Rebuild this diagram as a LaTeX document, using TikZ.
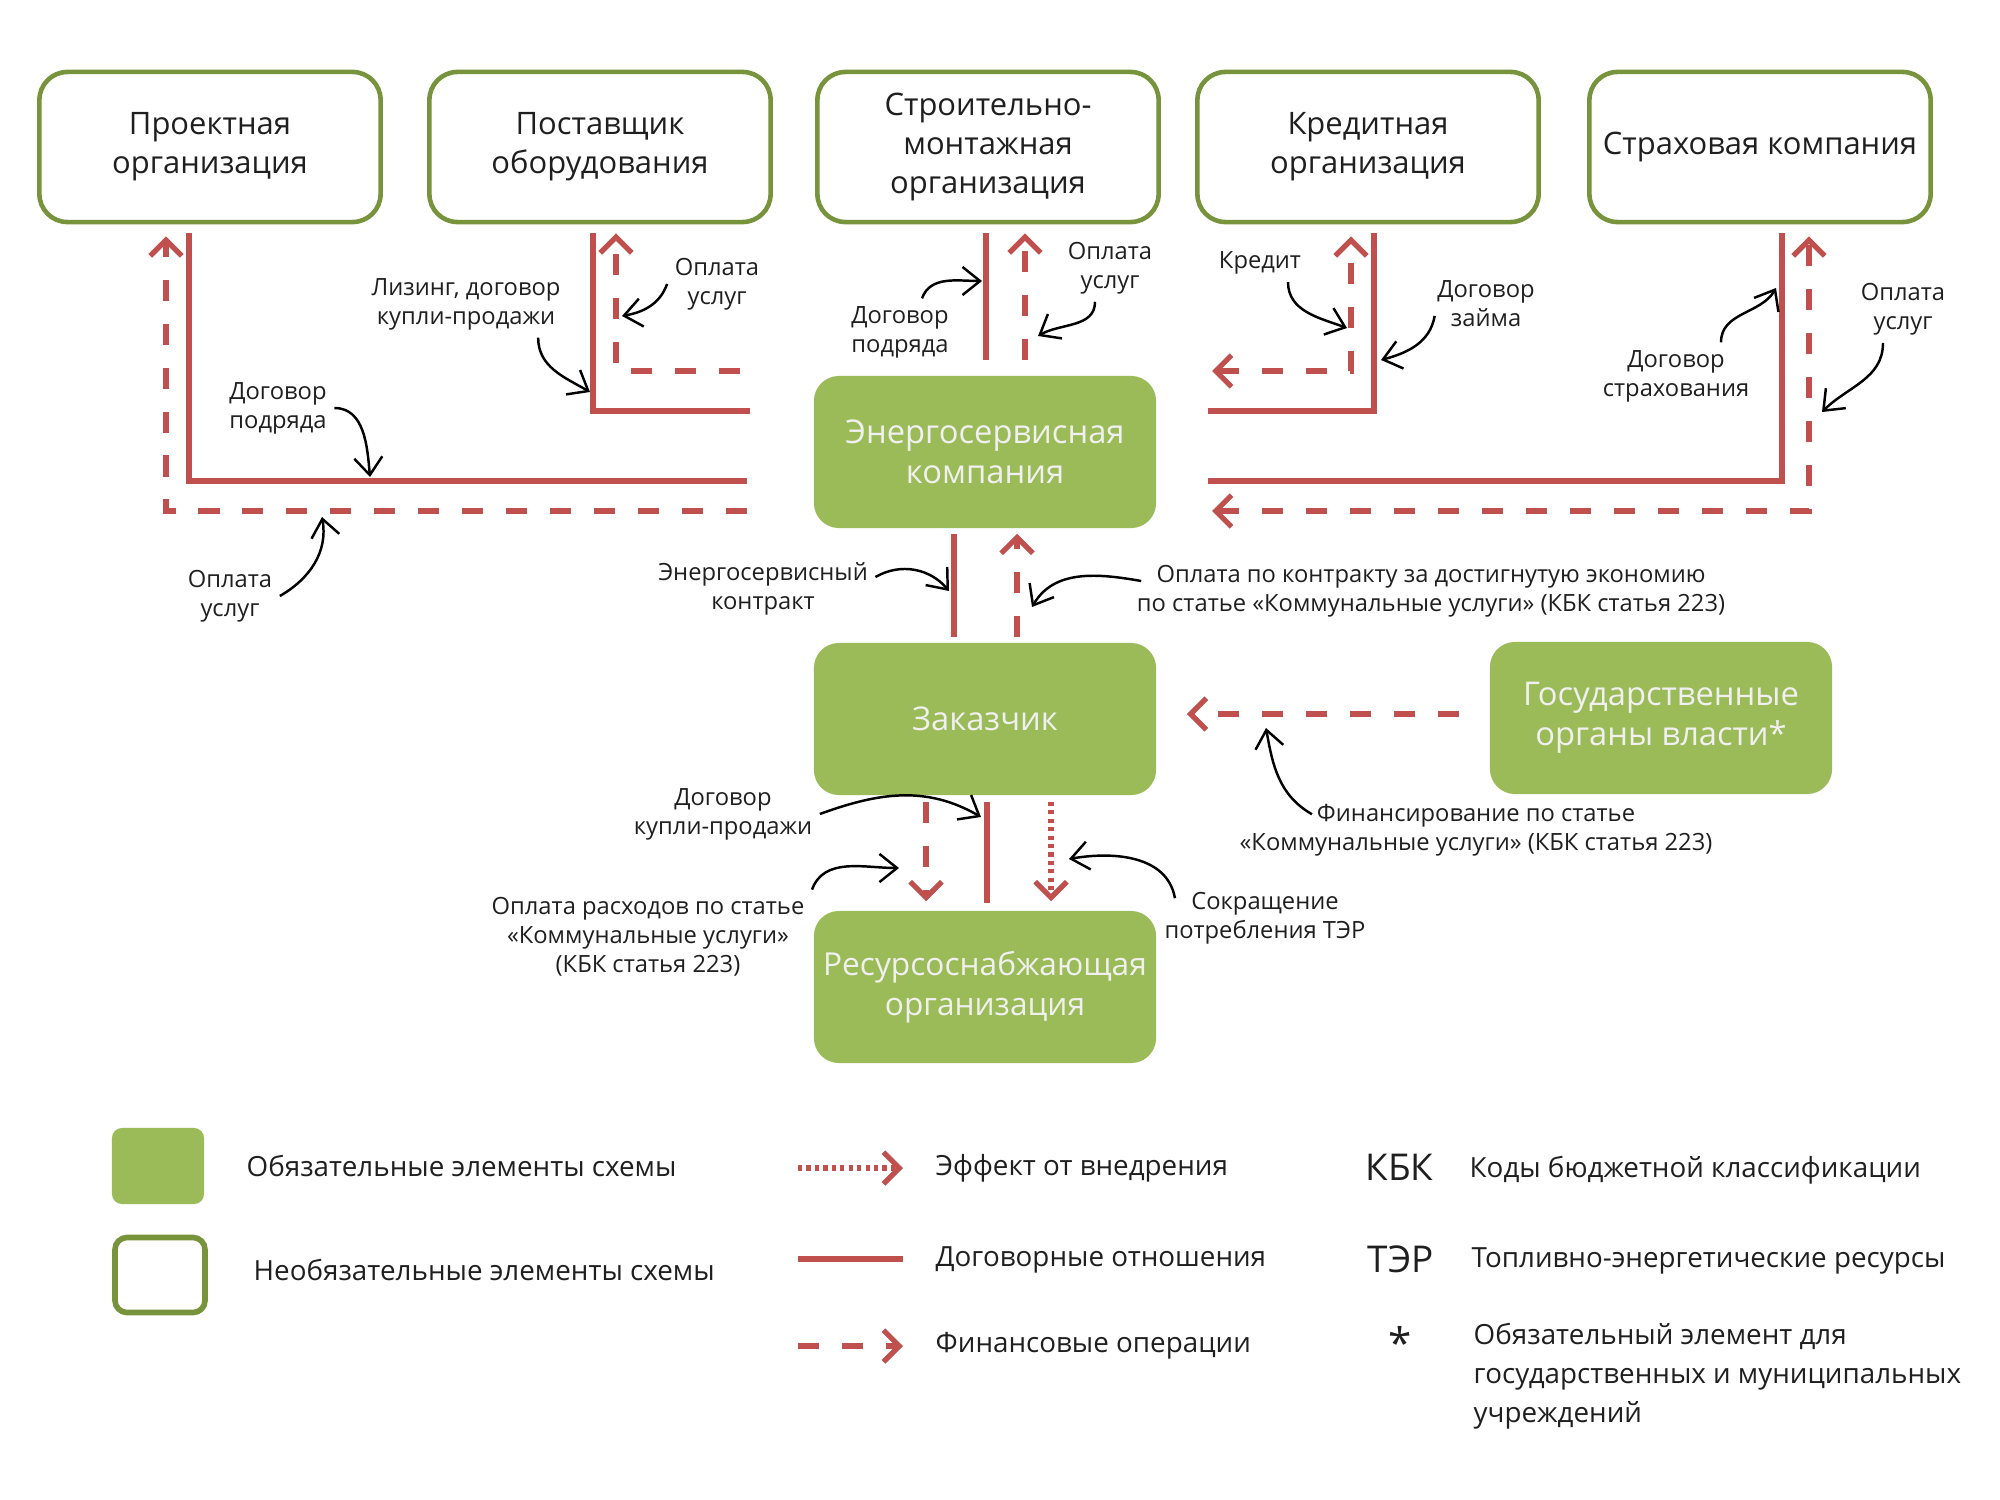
\documentclass[tikz,border=0pt]{standalone}
\usepackage{fontspec}
\setmainfont{Open Sans}
\usetikzlibrary{arrows.meta,calc}

\definecolor{esred}{HTML}{C0504D}
\definecolor{esgreen}{HTML}{9BBB59}
\definecolor{esolive}{HTML}{77933C}

\tikzset{
  optbox/.style={draw=esolive, line width=1.3pt, rounded corners=0.28cm, fill=white,
    minimum width=3.41cm, minimum height=1.5cm, align=center, text=black!88,
    inner xsep=2pt, font=\fontsize{8.8}{11}\selectfont},
  reqbox/.style={fill=esgreen, rounded corners=0.25cm, minimum width=3.42cm,
    minimum height=1.52cm, align=center, text=white!94!black,
    inner xsep=1pt, font=\fontsize{9.3}{11.4}\selectfont},
  contract/.style={esred, line width=1.5pt},
  finance/.style={esred, line width=1.5pt, dash pattern=on 6pt off 6.5pt},
  effect/.style={esred, line width=1.5pt, dash pattern=on 1.2pt off 1.2pt},
  redtip/.style={-{Straight Barb[length=4.5pt,width=9pt]}},
  bothtips/.style={{Straight Barb[length=4.5pt,width=9pt]}-{Straight Barb[length=4.5pt,width=9pt]}},
  note/.style={black, line width=0.7pt, -{Straight Barb[length=5pt,width=8pt]}},
  notetext/.style={align=center, text=black!88, font=\fontsize{6.75}{8.3}\selectfont, inner sep=2pt},
  legtext/.style={anchor=west, align=left, text=black!88, font=\fontsize{7.9}{11.1}\selectfont, inner sep=0pt},
  abbr/.style={anchor=west, text=black!88, font=\fontsize{10.5}{12}\selectfont, inner sep=0pt}
}

\begin{document}
\begin{tikzpicture}[x=0.01cm,y=-0.01cm]
\useasboundingbox (0,0) rectangle (2000,1500);

% participants
\node[optbox] (proj) at (210,147) {Проектная\\организация};
\node[optbox] (supp) at (600,147) {Поставщик\\оборудования};
\node[optbox] (smo) at (988,147) {Строительно-\\монтажная\\организация};
\node[optbox] (bank) at (1368,147) {Кредитная\\организация};
\node[optbox] (ins) at (1760,147) {Страховая компания};

\node[reqbox] (esco) at (985,452) {Энергосервисная\\компания};
\node[reqbox] (cust) at (985,719) {Заказчик};
\node[reqbox, font=\fontsize{9}{11.4}\selectfont] (rso) at (985,987) {Ресурсоснабжающая\\организация};
\node[reqbox] (gov) at (1661,718) {Государственные\\органы власти*};

% free ends next to the ESCO box
\coordinate (l1) at (747,481);
\coordinate (l1f) at (747,511);
\coordinate (l2) at (750,411);
\coordinate (l2f) at (740,371);
\coordinate (r4) at (1208,411);
\coordinate (r4f) at (1212,371);
\coordinate (r5) at (1208,481);
\coordinate (r5f) at (1212,511);

% relations
\draw[contract] ($(proj.south)+(-21,9)$) |- (l1);
\draw[finance,redtip] (l1f) -| ($(proj.south)+(-44,12)$);
\draw[contract] ($(supp.south)+(-7,9)$) |- (l2);
\draw[finance,redtip] (l2f) -| ($(supp.south)+(16,9)$);
\draw[contract] ($(smo.south)+(-2,9)$) -- ($(esco.north)+(1,-15)$);
\draw[finance,redtip] ($(esco.north)+(40,-15)$) -- ($(smo.south)+(37,9)$);
\draw[contract] ($(bank.south)+(6,9)$) |- (r4);
\draw[finance,bothtips] (r4f) -| ($(bank.south)+(-17,12)$);
\draw[contract] ($(ins.south)+(22,9)$) |- (r5);
\draw[finance,bothtips] (r5f) -| ($(ins.south)+(49,12)$);

\draw[contract] ($(esco.south)+(-31,5)$) -- ($(cust.north)+(-31,-5)$);
\draw[finance,redtip] ($(cust.north)+(32,-5)$) -- ($(esco.south)+(32,5)$);
\draw[finance,redtip] ($(gov.west)+(-30,-4)$) -- ($(cust.east)+(30,-5)$);

\draw[finance,redtip] ($(cust.south)+(-59,6)$) -- ($(rso.north)+(-59,-9)$);
\draw[contract] ($(cust.south)+(2,6)$) -- ($(rso.north)+(2,-7)$);
\draw[effect,redtip] ($(cust.south)+(66,6)$) -- ($(rso.north)+(66,-9)$);

% labels
\node[notetext] (n1) at (278,408) {Договор\\подряда};
\node[notetext] (n2) at (230,596) {Оплата\\услуг};
\node[notetext] (n3) at (466,304) {Лизинг, договор\\купли-продажи};
\node[notetext] (n4) at (717,284) {Оплата\\услуг};
\node[notetext] (n5) at (900,332) {Договор\\подряда};
\node[notetext] (n6) at (1110,268) {Оплата\\услуг};
\node[notetext] (n7) at (1260,263) {Кредит};
\node[notetext] (n8) at (1486,304) {Договор\\займа};
\node[notetext] (n9) at (1676,376) {Договор\\страхования};
\node[notetext] (n10) at (1903,309) {Оплата\\услуг};
\node[notetext] (n11) at (763,589) {Энергосервисный\\контракт};
\node[notetext] (n12) at (1431,591) {Оплата по контракту за достигнутую экономию\\по статье «Коммунальные услуги» (КБК статья 223)};
\node[notetext] (n13) at (1476,830) {Финансирование по статье\\«Коммунальные услуги» (КБК статья 223)};
\node[notetext] (n14) at (723,814) {Договор\\купли-продажи};
\node[notetext] (n15) at (648,937) {Оплата расходов по статье\\«Коммунальные услуги»\\(КБК статья 223)};
\node[notetext] (n16) at (1265,918) {Сокращение\\потребления ТЭР};

\coordinate (t1) at (370,477);
\coordinate (t2) at (322,517);
\coordinate (t3) at (590,392);
\coordinate (t4) at (622,316);
\coordinate (t5) at (982,281);
\coordinate (t6) at (1038,336);
\coordinate (t7) at (1347,328);
\coordinate (t8) at (1381,360);
\coordinate (t9) at (1776,288);
\coordinate (t10) at (1822,412);
\coordinate (t11) at (949,591);
\coordinate (t12) at (1032,607);
\coordinate (t13) at (1266,728);
\coordinate (t14) at (981,817);
\coordinate (t15) at (899,868);
\coordinate (t16) at (1069,859);

\draw[note] (n1.east) to[out=0, in=95] (t1);
\draw[note] (n2.east) to[out=30, in=-80] (t2);
\draw[note] ($(n3.south east)+(-30,0)$) to[out=-90, in=150] (t3);
\draw[note] (n4.west) to[out=-110, in=10] (t4);
\draw[note] ($(n5.north)+(22,0)$) to[out=70, in=180] (t5);
\draw[note] ($(n6.south)+(-15,0)$) to[out=-90, in=30] (t6);
\draw[note] ($(n7.south)+(28,0)$) to[out=-90, in=160] (t7);
\draw[note] ($(n8.west)+(5,12)$) to[out=-100, in=15] (t8);
\draw[note] ($(n9.north)+(45,0)$) to[out=90, in=-120] (t9);
\draw[note] ($(n10.south)+(-20,0)$) to[out=-90, in=45] (t10);
\draw[note] ($(n11.east)+(0,-12)$) to[out=30, in=130] (t11);
\draw[note] ($(n12.west)+(12,-10)$) to[out=170, in=60] (t12);
\draw[note] ($(n13.north west)+(80,18)$) to[out=150, in=-80] (t13);
\draw[note] (n14.east) to[out=20, in=150] (t14);
\draw[note] (n15.north east) to[out=70, in=180] (t15);
\draw[note] ($(n16.north west)+(18,14)$) to[out=100, in=10] (t16);

% legend
\node[reqbox, minimum width=0.92cm, minimum height=0.76cm, rounded corners=0.1cm] (lreq) at (158,1166) {};
\node[optbox, minimum width=0.9cm, minimum height=0.75cm, rounded corners=0.12cm, line width=1.6pt] (lopt) at (160,1275) {};
\node[legtext] (lreqt) at (246,1166) {Обязательные элементы схемы};
\node[legtext] (loptt) at (253,1270) {Необязательные элементы схемы};

\coordinate (le1) at (798,1168);
\coordinate (le2) at (903,1168);
\coordinate (lc1) at (798,1259);
\coordinate (lc2) at (903,1259);
\coordinate (lf1) at (798,1346);
\coordinate (lf2) at (903,1346);
\draw[effect,redtip] (le1) -- (le2);
\draw[contract, line width=1.8pt] (lc1) -- (lc2);
\draw[finance,redtip] (lf1) -- (lf2);
\node[legtext] (let) at (935,1168) {Эффект от внедрения};
\node[legtext] (lct) at (935,1260) {Договорные отношения};
\node[legtext] (lft) at (935,1346) {Финансовые операции};

\node[abbr] (kbk) at (1365,1167) {КБК};
\node[legtext] (kbkt) at (1469,1170) {Коды бюджетной классификации};
\node[abbr] (ter) at (1367,1259) {ТЭР};
\node[legtext] (tert) at (1471,1261) {Топливно-энергетические ресурсы};
\node[font=\fontsize{12}{12}\selectfont, text=black!88] (star) at (1400,1342) {*};
\node[legtext] (start) at (1473,1376) {Обязательный элемент для\\государственных и муниципальных\\учреждений};

\end{tikzpicture}
\end{document}
